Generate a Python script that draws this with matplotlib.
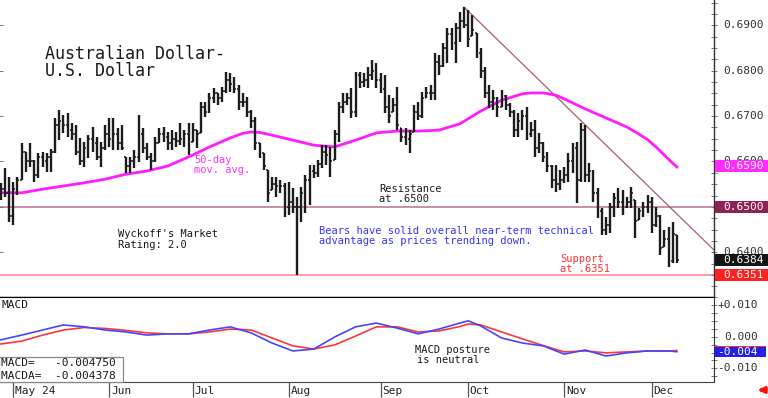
import numpy as np
import matplotlib
matplotlib.use('Agg')
import matplotlib.pyplot as plt
from matplotlib.transforms import blended_transform_factory
from matplotlib.patches import Rectangle
from matplotlib.ticker import MultipleLocator

# ---------------- data (prices in pips: 6553 -> 0.6553) ----------------
highs = [6553,6586,6566,6555,6566,6641,6621,6641,6603,6619, 6621,6619,6628,6696,6713,6702,6707,6685,6680,6652,
         6643,6658,6676,6654,6643,6680,6696,6696,6674,6680, 6610,6610,6625,6702,6674,6641,6619,6654,6674,6676,
         6665,6669,6665,6685,6669,6685,6685,6669,6731,6731, 6751,6762,6751,6764,6797,6795,6786,6768,6751,6742,
         6713,6698,6641,6619,6581,6566,6566,6559,6553,6555, 6542,6522,6544,6570,6592,6592,6603,6636,6636,6632,
         6669,6731,6751,6751,6762,6797,6797,6795,6808,6824, 6817,6795,6790,6746,6740,6764,6674,6674,6669,6724,
         6731,6753,6764,6768,6839,6835,6861,6894,6894,6905, 6929,6940,6934,6923,6883,6850,6808,6768,6757,6742,
         6757,6746,6729,6713,6707,6713,6720,6687,6691,6663, 6643,6621,6592,6592,6581,6588,6619,6641,6643,6685,
         6680,6597,6581,6542,6498,6478,6509,6531,6542,6537, 6522,6544,6515,6498,6511,6526,6522,6500,6482,6449,
         6456,6467,6438]
lows = [6515,6522,6467,6460,6526,6559,6577,6588,6555,6564, 6588,6577,6577,6619,6647,6663,6654,6647,6614,6592,
        6588,6608,6621,6603,6588,6625,6632,6625,6625,6625, 6575,6575,6586,6599,6619,6603,6581,6599,6641,6643,
        6625,6625,6632,6636,6632,6614,6643,6630,6663,6698, 6707,6729,6724,6731,6751,6753,6751,6713,6720,6698,
        6674,6625,6608,6581,6511,6537,6522,6531,6478,6482, 6487,6351,6467,6487,6504,6564,6566,6586,6592,6566,
        6603,6643,6707,6724,6696,6698,6762,6764,6762,6779, 6762,6751,6707,6685,6709,6669,6643,6636,6619,6665,
        6691,6696,6740,6735,6735,6790,6808,6817,6846,6817, 6863,6894,6852,6876,6828,6784,6740,6718,6713,6698,
        6720,6713,6698,6654,6654,6669,6647,6654,6610,6619, 6599,6577,6542,6533,6537,6553,6555,6575,6509,6555,
        6555,6555,6511,6476,6438,6438,6442,6478,6498,6482, 6498,6498,6431,6471,6478,6487,6442,6456,6394,6412,
        6368,6376,6376]
closes = [6540,6530,6480,6540,6560,6620,6600,6600,6570,6610, 6600,6610,6620,6680,6690,6680,6670,6660,6620,6600,
          6630,6650,6640,6610,6630,6660,6650,6660,6640,6630, 6590,6600,6610,6660,6630,6610,6600,6640,6660,6655,
          6640,6650,6645,6650,6660,6640,6670,6660,6720,6710, 6740,6750,6740,6755,6780,6770,6760,6730,6730,6710,
          6690,6640,6620,6590,6530,6550,6545,6545,6500,6510, 6500,6500,6530,6560,6580,6575,6595,6620,6615,6600,
          6660,6720,6730,6740,6710,6790,6775,6780,6790,6800, 6780,6760,6720,6700,6725,6680,6655,6650,6660,6710,
          6700,6740,6750,6750,6820,6810,6850,6880,6860,6895, 6910,6900,6870,6890,6840,6800,6750,6730,6740,6720,
          6745,6725,6710,6670,6690,6700,6660,6670,6630,6640, 6610,6590,6560,6550,6560,6570,6600,6630,6560,6670,
          6570,6580,6530,6490,6450,6460,6500,6520,6510,6500, 6510,6530,6470,6490,6500,6510,6460,6480,6410,6430,
          6380,6440,6384]
first_open = 6530

ma_idx = [0,5,10,15,20,25,30,35,40,45,50,55,58,60,62,65,70,75,80,85,90,95,100,105,110,115,120,125,127,130,
          133,135,140,145,150,153,155,157,160,162]
ma_vals = [6531,6531,6539,6546,6553,6561,6572,6579,6590,6610,6632,6652,6662,6665,6664,6658,6647,6636,6632,6647,
           6663,6667,6667,6669,6683,6711,6735,6749,6751,6751,6746,6738,6716,6696,6676,6660,6648,6632,6605,6588]

macd_idx = [0,5,10,15,20,25,30,35,40,45,50,55,60,65,70,75,80,85,90,95,100,105,110,112,115,120,125,130,135,140,145,150,155,160,162]
macd_vals = [-0.0010,0.0005,0.0021,0.0037,0.0031,0.0021,0.0015,0.0005,0.0009,0.0009,0.0021,0.0031,0.0012,-0.0020,
             -0.0045,-0.0039,-0.0001,0.0031,0.0043,0.0027,0.0009,0.0024,0.0043,0.0050,0.0034,-0.0004,-0.0020,
             -0.0029,-0.0055,-0.0042,-0.0061,-0.0051,-0.0045,-0.0045,-0.00475]
signal_vals = [-0.0023,-0.0014,0.0005,0.0021,0.0029,0.0026,0.0020,0.0012,0.0009,0.0009,0.0015,0.0024,0.0021,-0.0004,
               -0.0029,-0.0039,-0.0026,0.0002,0.0031,0.0031,0.0015,0.0018,0.0032,0.0040,0.0037,0.0015,-0.0007,
               -0.0028,-0.0048,-0.0045,-0.0051,-0.0048,-0.0045,-0.0045,-0.004378]

month_idx = [3, 26, 46, 69, 91, 112, 135, 156]
month_labels = ['May 24', 'Jun', 'Jul', 'Aug', 'Sep', 'Oct', 'Nov', 'Dec']

resistance = 0.6500
support = 0.6351
last_close = 0.6384
last_ma = 0.6590
trend_start = (111, 0.6940)
trend_end = (170.9, 0.6405)
price_ticks = [0.6900, 0.6800, 0.6700, 0.6600, 0.6500, 0.6400]
macd_ticks = [0.010, 0.0, -0.010]
macd_tick_labels = ['+0.010', '0.000', '-0.010']
macd_last, macda_last = -0.004750, -0.004378
macd_last_label = '-0.004'

# ---------------- figure ----------------
W, H = 768, 398
fig = plt.figure(figsize=(W / 100, H / 100), dpi=100)
MONO = 'DejaVu Sans Mono'

def fx(x):
    return x / W

def fy(y):
    return 1 - y / H

ax = fig.add_axes([0, fy(297), 714 / W, 297 / H])
ax2 = fig.add_axes([0, fy(382), 714 / W, 85 / H])

XMIN, XMAX = -0.19, 170.9
ax.set_xlim(XMIN, XMAX)
ax.set_ylim(0.63015, 0.69557)
ax2.set_xlim(XMIN, XMAX)
ax2.set_ylim(-0.01429, 0.01252)

h = np.array(highs) / 1e4
l = np.array(lows) / 1e4
c = np.array(closes) / 1e4
prev = np.concatenate([[first_open / 1e4], c[:-1]])
o = np.clip(prev, l, h)
idx = np.arange(len(c))

# reference lines
ax.axhline(resistance, color='#c98fab', lw=1.4, zorder=1)
ax.axhline(support, color='#ff9c9c', lw=1.4, zorder=1)
ax.plot([trend_start[0], trend_end[0]], [trend_start[1], trend_end[1]], color='#a8606f', lw=0.9, zorder=1)

# OHLC bars
bar_col = '#1c1c1c'
ax.vlines(idx, l, h, color=bar_col, lw=1.7, zorder=3)
ax.hlines(o, idx - 0.45, idx, color=bar_col, lw=1.1, zorder=3)
ax.hlines(c, idx, idx + 0.45, color=bar_col, lw=1.1, zorder=3)

# 50-day MA
ax.plot(ma_idx, np.array(ma_vals) / 1e4, color='#ff1cff', lw=2.0, zorder=2)

# spines and ticks
for s in ['top', 'left']:
    ax.spines[s].set_visible(False)
ax.spines['bottom'].set_color('black')
ax.spines['bottom'].set_linewidth(1.0)
ax.spines['right'].set_color('#333333')
ax.spines['right'].set_linewidth(1.0)
ax.set_xticks([])
ax.set_yticks(price_ticks)
ax.yaxis.set_minor_locator(MultipleLocator(0.0025))
ax.tick_params(axis='y', which='major', left=True, right=True, labelleft=False, labelright=False,
               direction='inout', length=4, width=0.7, color='#777777')
ax.tick_params(axis='y', which='minor', left=False, right=True, labelleft=False, labelright=False,
               direction='inout', length=4, width=0.7, color='#777777')

tr = blended_transform_factory(ax.transAxes, ax.transData)
xl = 723 / 714
for v in price_ticks:
    ax.text(xl, v, f'{v:.4f}', transform=tr, ha='left', va='center', fontsize=8,
            family=MONO, color='#333333', clip_on=False, zorder=3)

px_data = (0.69557 - 0.63015) / 297.0
bh = 6 * px_data
for v, col in [(last_ma, '#ff2bff'), (resistance, '#8c2357'), (last_close, '#151515'), (support, '#ff2020')]:
    ax.add_patch(Rectangle((715 / 714, v - bh), (768 - 715) / 714, 2 * bh, transform=tr,
                           facecolor=col, edgecolor='none', clip_on=False, zorder=4))
    ax.text(xl, v, f'{v:.4f}', transform=tr, ha='left', va='center', fontsize=8,
            family=MONO, color='white', clip_on=False, zorder=5)

# ---------------- MACD panel ----------------
ax2.plot(macd_idx, signal_vals, color='#ff3636', lw=1.2, zorder=2)
ax2.plot(macd_idx, macd_vals, color='#4646ff', lw=1.2, zorder=3)
ax2.spines['left'].set_visible(False)
ax2.spines['top'].set_color('black')
ax2.spines['right'].set_color('#333333')
ax2.spines['bottom'].set_color('#444444')
ax2.set_yticks(macd_ticks)
ax2.yaxis.set_minor_locator(MultipleLocator(0.0025))
ax2.tick_params(axis='y', which='both', left=False, right=True, labelleft=False, labelright=False,
                direction='inout', length=4, width=0.7, color='#777777')
ax2.set_xticks(month_idx)
ax2.tick_params(axis='x', which='both', bottom=True, top=False, labelbottom=False,
                direction='out', length=11, width=0.9, color='#555555')

tr2 = blended_transform_factory(ax2.transAxes, ax2.transData)
for v, s in zip(macd_ticks, macd_tick_labels):
    ax2.text(758 / 714, v, s, transform=tr2, ha='right', va='center', fontsize=8,
             family=MONO, color='#333333', clip_on=False)
mpx = (0.01252 + 0.01429) / 85.0
ax2.add_patch(Rectangle((714 / 714, macda_last - 5 * mpx), (766 - 714) / 714, 10 * mpx, transform=tr2,
                        facecolor='#ff3030', edgecolor='none', clip_on=False, zorder=4))
ax2.add_patch(Rectangle((714 / 714, macd_last - 5 * mpx), (766 - 714) / 714, 10 * mpx, transform=tr2,
                        facecolor='#2222e0', edgecolor='none', clip_on=False, zorder=5))
ax2.text(758 / 714, macd_last, macd_last_label, transform=tr2, ha='right', va='center', fontsize=8,
         family=MONO, color='white', clip_on=False, zorder=6)

# month labels
trm = blended_transform_factory(ax2.transData, fig.transFigure)
for i, s in zip(month_idx, month_labels):
    ax2.text(i + 0.4, fy(393.5), s, transform=trm, ha='left', va='baseline', fontsize=8,
             family=MONO, color='#222222', clip_on=False)

# ---------------- texts ----------------
def ftext(x, y, s, size=7.5, color='#1a1a1a'):
    fig.text(fx(x), fy(y), s, ha='left', va='baseline', fontsize=size, family=MONO, color=color)

ftext(45, 59, 'Australian Dollar-', 12)
ftext(45, 76, 'U.S. Dollar', 12)
ftext(118, 237.3, "Wyckoff's Market")
ftext(118, 248.3, 'Rating: 2.0')
ftext(194, 163.3, '50-day', color='#ff30ff')
ftext(194, 173.3, 'mov. avg.', color='#ff30ff')
ftext(379, 191.7, 'Resistance')
ftext(379, 201.7, 'at .6500')
ftext(319, 234, 'Bears have solid overall near-term technical', color='#3535ff')
ftext(319, 244.3, 'advantage as prices trending down.', color='#3535ff')
ftext(560, 262.3, 'Support', color='#ff3030')
ftext(560, 272.3, 'at .6351', color='#ff3030')
ftext(415, 353.3, 'MACD posture')
ftext(417, 363.3, 'is neutral')
ftext(1, 308.3, 'MACD', 8)

fig.add_artist(Rectangle((fx(-1), fy(382)), fx(124), 25 / H, transform=fig.transFigure,
                         facecolor='white', edgecolor='#888888', lw=0.9, zorder=5))
fig.text(fx(1), fy(366), f'MACD=   {macd_last:.6f}', ha='left', va='baseline', fontsize=8,
         family=MONO, color='#1a1a1a', zorder=6)
fig.text(fx(1), fy(379.3), f'MACDA=  {macda_last:.6f}', ha='left', va='baseline', fontsize=8,
         family=MONO, color='#1a1a1a', zorder=6)

# red arrow at lower right
fig.add_artist(matplotlib.patches.FancyArrowPatch((fx(767), fy(390)), (fx(755), fy(390)),
               transform=fig.transFigure, arrowstyle='-|>', mutation_scale=9, color='#ff1010', lw=2.2))

fig.savefig('out.png', dpi=100)
